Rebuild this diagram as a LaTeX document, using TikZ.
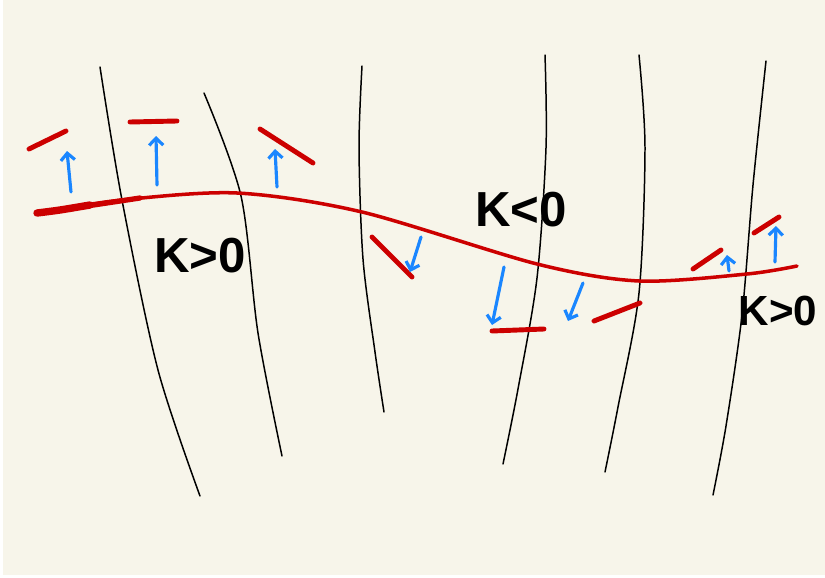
\documentclass[tikz,border=0pt]{standalone}
\usepackage{fontspec}
\setsansfont{Liberation Sans}
\usepackage{tikz}
\usetikzlibrary{arrows.meta}
\definecolor{paper}{HTML}{F7F5EA}
\definecolor{front}{HTML}{CC0000}
\definecolor{normal}{HTML}{1A86FF}
\definecolor{ink}{HTML}{000000}
\tikzset{
  fibre/.style ={draw=ink,line width=0.85pt,line cap=round},
  front/.style ={draw=front,line width=2pt,line cap=round},
  tangent/.style={draw=front,line width=2.8pt,line cap=round},
  push/.style  ={-{Straight Barb[length=4pt,width=8pt]},draw=normal,line width=1.8pt,line cap=round},
  curv/.style  ={text=ink,font=\sffamily\bfseries\fontsize{28}{28}\selectfont,inner sep=0pt}
}
\begin{document}
\begin{tikzpicture}[x=0.02cm,y=-0.02cm]
  \useasboundingbox (0,0) rectangle (825,578);
  \fill[white] (0,0) rectangle (825,578);
  \fill[paper] (3,0) rectangle (825,575);
  \draw[fibre] plot[smooth] coordinates {(100,67) (122,200) (158,370) (200,496)};
  \draw[fibre] plot[smooth] coordinates {(204,93) (241,196) (258,333) (282,456)};
  \draw[fibre] plot[smooth] coordinates {(362,66) (359,148) (363,259) (375,352) (384,412)};
  \draw[fibre] plot[smooth] coordinates {(545,55) (546,148) (537,278) (518,389) (503,464)};
  \draw[fibre] plot[smooth] coordinates {(639,55) (645,148) (639,293) (618,407) (605,472)};
  \draw[fibre] plot[smooth] coordinates {(766,61) (753,185) (742,315) (726,426) (713,495)};
  \draw[front] plot[smooth] coordinates {(37,213) (122,200) (237,193) (362,212) (537,264) (639,281) (747,274) (797,266)};
  \draw[front,line width=3pt] plot[smooth] coordinates {(37,213) (80,207) (140,198)};
  \draw[front,line width=4.2pt] plot[smooth] coordinates {(37,213) (60,210) (90,205)};
  \draw[tangent] (29,149) -- (66,131);
  \draw[tangent] (130,122) -- (177,121);
  \draw[tangent] (260,129) -- (313,163);
  \draw[tangent] (372,237) -- (412,277);
  \draw[tangent] (492,331) -- (544,329);
  \draw[tangent] (594,321) -- (640,303);
  \draw[tangent] (693,269) -- (721,250);
  \draw[tangent] (754,233) -- (779,217);
  \draw[push] (71,192) -- (67,151);
  \draw[push] (157,185) -- (156,136);
  \draw[push] (277,187) -- (275,149);
  \draw[push] (421,237) -- (410,272);
  \draw[push] (504,267) -- (492,325);
  \draw[push] (583,283) -- (568,321);
  \draw[push] (729,271) -- (727,255);
  \draw[push] (775,262) -- (776,226);
  \node[curv] (kpos) at (200,256) {K>0};
  \node[curv] (kneg) at (521,210) {K<0};
  \node[curv,font=\sffamily\bfseries\fontsize{24}{24}\selectfont] (kposright) at (778,311) {K>0};
\end{tikzpicture}
\end{document}
